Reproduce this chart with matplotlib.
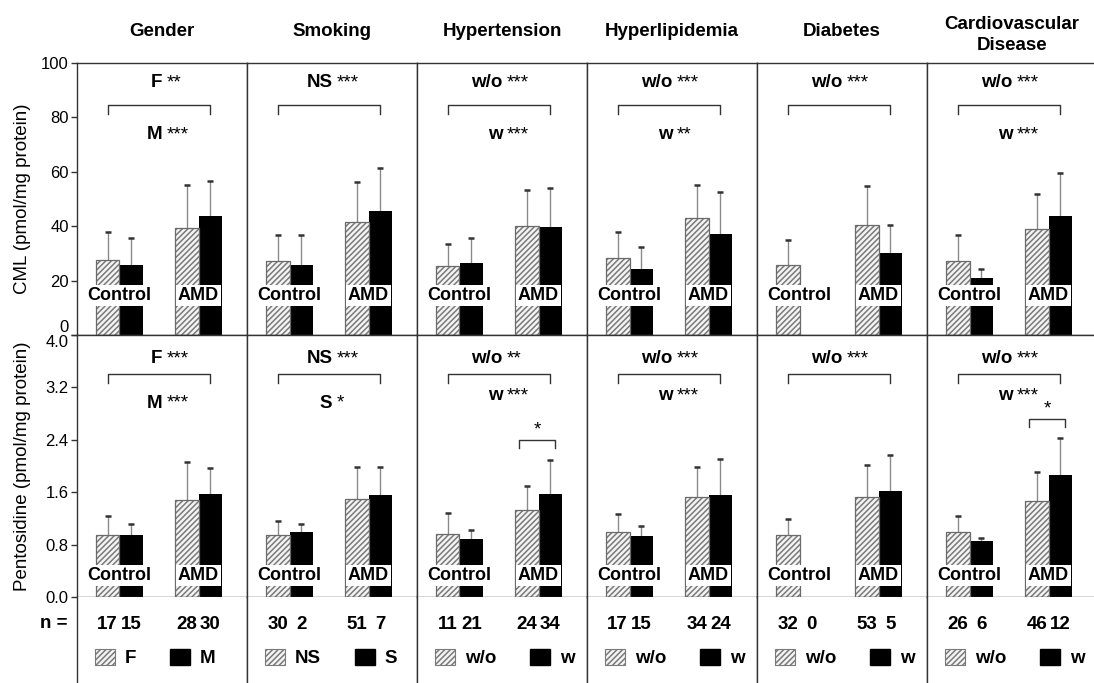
import numpy as np
import matplotlib.pyplot as plt
from matplotlib.patches import Patch

plt.rcParams['font.family'] = ['Liberation Sans', 'DejaVu Sans']
plt.rcParams['hatch.linewidth'] = 1.1

# data: [control a, control b, AMD a, AMD b]
categories = ['Gender', 'Smoking', 'Hypertension', 'Hyperlipidemia', 'Diabetes',
              'Cardiovascular\nDisease']
group_a = ['F', 'NS', 'w/o', 'w/o', 'w/o', 'w/o']
group_b = ['M', 'S', 'w', 'w', 'w', 'w']

cml_mean = [[27.5, 25.9, 39.4, 43.9],
            [27.1, 25.9, 41.6, 45.5],
            [25.3, 26.3, 40.0, 39.8],
            [28.3, 24.3, 43.1, 37.3],
            [25.9, np.nan, 40.6, 30.3],
            [27.1, 21.0, 38.8, 43.7]]
cml_sd = [[10.4, 9.6, 15.9, 12.9],
          [9.8, 11.0, 14.6, 16.0],
          [8.3, 9.5, 13.3, 14.2],
          [9.7, 8.1, 12.2, 15.3],
          [8.9, np.nan, 14.0, 10.3],
          [9.6, 3.2, 13.2, 15.7]]

pento_mean = [[0.95, 0.95, 1.48, 1.565],
              [0.94, 0.995, 1.49, 1.555],
              [0.96, 0.88, 1.325, 1.58],
              [1.0, 0.925, 1.525, 1.56],
              [0.945, np.nan, 1.525, 1.62],
              [0.985, 0.85, 1.465, 1.855]]
pento_sd = [[0.285, 0.165, 0.575, 0.40],
            [0.215, 0.12, 0.49, 0.43],
            [0.33, 0.15, 0.37, 0.51],
            [0.265, 0.155, 0.455, 0.55],
            [0.24, np.nan, 0.485, 0.55],
            [0.25, 0.055, 0.44, 0.57]]

n_counts = [[17, 15, 28, 30],
            [30, 2, 51, 7],
            [11, 21, 24, 34],
            [17, 15, 34, 24],
            [32, 0, 53, 5],
            [26, 6, 46, 12]]

cml_sig_a = ['**', '***', '***', '***', '***', '***']
cml_sig_b = ['***', None, '***', '**', None, '***']
pento_sig_a = ['***', '***', '**', '***', '***', '***']
pento_sig_b = ['***', '*', '***', '***', None, '***']
pento_amd_sig = [None, None, '*', None, None, '*']

W, H = 1094, 683
fig = plt.figure(figsize=(10.94, 6.83), dpi=100)


def frac(x0, y0, x1, y1):
    return [x0 / W, 1 - y1 / H, (x1 - x0) / W, (y1 - y0) / H]


LEFT, PW = 77, 170
XMAX = 7.2
pos = [1.3, 2.3, 4.65, 5.65]
ctrl_c, amd_c = 1.8, 5.15
FS = 13.5
SPINE = '#333333'


def style(ax, ylim):
    ax.set_xlim(0, XMAX)
    ax.set_ylim(*ylim)
    ax.set_xticks([])
    for s in ax.spines.values():
        s.set_color(SPINE)
        s.set_linewidth(1.0)


def draw_bars(ax, means, sds, lbl_y):
    for j in range(4):
        m, sd = means[j], sds[j]
        if np.isnan(m):
            continue
        if j % 2 == 0:
            ax.bar(pos[j], m, width=1, color='#f4f4f4', hatch='//////',
                   edgecolor='#7a7a7a', linewidth=0, zorder=2)
            ax.bar(pos[j], m, width=1, fill=False, edgecolor='#6a6a6a',
                   linewidth=0.9, zorder=3)
        else:
            ax.bar(pos[j], m, width=1, color='black', zorder=2)
        ax.vlines(pos[j], m, m + sd, color='#8a8a8a', lw=1.0, zorder=1)
        ax.plot(pos[j], m + sd, marker='_', ms=5, mew=1.8, color='#333333', zorder=1)
    for x, t in [(ctrl_c, 'Control'), (amd_c, 'AMD')]:
        ax.text(x, lbl_y, t, ha='center', va='center', fontsize=13,
                fontweight='bold', zorder=5,
                bbox=dict(boxstyle='square,pad=0.1', facecolor='white', edgecolor='none'))


def sig(ax, y, label, stars):
    ax.text(XMAX / 2 + 0.02, y, label, ha='right', va='baseline',
            fontsize=FS, fontweight='bold')
    ax.text(XMAX / 2 + 0.18, y, stars, ha='left', va='baseline', fontsize=FS)


def bracket(ax, x0, x1, y, drop):
    ax.plot([x0, x0, x1, x1], [y - drop, y, y, y - drop], color='#333333', lw=1.0)


for i, cat in enumerate(categories):
    x0 = LEFT + i * PW
    x1 = x0 + PW
    ax_t = fig.add_axes(frac(x0, 63, x1, 335))
    ax_b = fig.add_axes(frac(x0, 335, x1, 597))
    ax_n = fig.add_axes(frac(x0, 597, x1, 700))

    # CML
    style(ax_t, (0, 100))
    draw_bars(ax_t, cml_mean[i], cml_sd[i], 14.5)
    bracket(ax_t, pos[0], pos[3], 84.4, 3)
    sig(ax_t, 91.0, group_a[i], cml_sig_a[i])
    if cml_sig_b[i]:
        sig(ax_t, 72.0, group_b[i], cml_sig_b[i])

    # Pentosidine
    style(ax_b, (0, 4.0))
    draw_bars(ax_b, pento_mean[i], pento_sd[i], 0.33)
    bracket(ax_b, pos[0], pos[3], 3.40, 0.13)
    sig(ax_b, 3.57, group_a[i], pento_sig_a[i])
    if pento_sig_b[i]:
        sig(ax_b, 2.89 if i < 2 else 3.0, group_b[i], pento_sig_b[i])
    if pento_amd_sig[i]:
        yb = 2.40 if i == 2 else 2.72
        bracket(ax_b, pos[2] - 0.35, pos[3] + 0.2, yb, 0.13)
        ax_b.text(amd_c - 0.05, yb + 0.02, pento_amd_sig[i], ha='center',
                  va='bottom', fontsize=FS)

    if i == 0:
        ax_t.set_yticks(np.arange(0, 101, 20))
        ax_b.set_yticks(np.arange(0, 4.01, 0.8))
        ax_b.set_yticklabels(['%.1f' % v for v in np.arange(0, 4.01, 0.8)])
        for a in (ax_t, ax_b):
            a.tick_params(axis='y', direction='out', length=4, width=1,
                          color=SPINE, labelsize=12, pad=2)
        ax_t.get_yticklabels()[0].set_verticalalignment('bottom')
        ax_b.get_yticklabels()[-1].set_verticalalignment('top')
    else:
        ax_t.set_yticks([])
        ax_b.set_yticks([])

    # n counts and legend
    style(ax_n, (0, 1))
    ax_n.set_yticks([])
    ax_n.spines['top'].set_visible(False)
    ax_n.spines['bottom'].set_visible(False)
    for j in range(4):
        ax_n.text(pos[j], 0.694, str(n_counts[i][j]), ha='center', va='baseline',
                  fontsize=FS, fontweight='bold')
    handles = [Patch(facecolor='#f4f4f4', edgecolor='#7a7a7a', hatch='//////', linewidth=0.8),
               Patch(facecolor='black', edgecolor='black')]
    ax_n.legend(handles, [group_a[i], group_b[i]], ncol=2, loc='center left',
                bbox_to_anchor=(18 / PW, 0.408), frameon=False,
                prop={'weight': 'bold', 'size': FS}, handlelength=1.07,
                handleheight=1.0, handletextpad=0.53, columnspacing=1.8,
                borderpad=0, borderaxespad=0)

    # column title
    ty = 35 if '\n' in cat else 31
    fig.text((x0 + PW / 2) / W, 1 - ty / H, cat, ha='center', va='center',
             fontsize=FS, fontweight='bold', linespacing=1.35)

fig.text(23 / W, 1 - 199 / H, 'CML (pmol/mg protein)', rotation=90,
         ha='center', va='center', fontsize=13.5)
fig.text(23 / W, 1 - 466 / H, 'Pentosidine (pmol/mg protein)', rotation=90,
         ha='center', va='center', fontsize=13.5)
fig.text(67 / W, 1 - 628.5 / H, 'n =', ha='right', va='baseline',
         fontsize=FS, fontweight='bold')

fig.savefig('out.png', dpi=100)
